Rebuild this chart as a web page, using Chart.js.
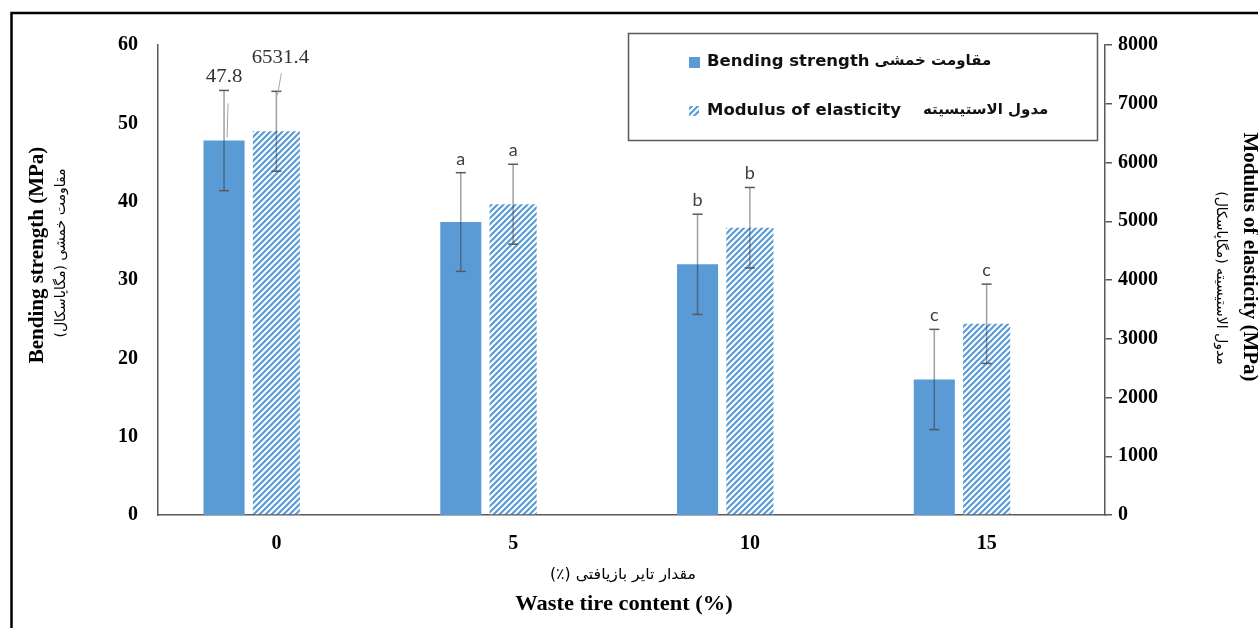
<!DOCTYPE html>
<html>
<head>
<meta charset="utf-8">
<script src="https://cdn.jsdelivr.net/npm/chart.js@4"></script>
<style>
  body { margin: 0; background: #fff; }
  #chart { display: block; }
</style>
</head>
<body>
<canvas id="chart" width="1258" height="628"></canvas>
<script>
// Data
const tireContent = ["0", "5", "10", "15"];
const bendingStrength = [47.8, 37.4, 32.0, 17.3];
const bendingError = [6.4, 6.3, 6.4, 6.4];
const modulusElasticity = [6531.4, 5290, 4890, 3255];
const modulusError = [680, 680, 685, 675];
const bendingLetters = ["", "a", "b", "c"];
const modulusLetters = ["", "a", "b", "c"];
const bendingAxis = { min: 0, max: 60, step: 10 };
const modulusAxis = { min: 0, max: 8000, step: 1000 };

const BLUE = "#5B9BD5";
const AXIS = "#595959";
const SERIF = "'Liberation Serif', 'Times New Roman', serif";
const SANS = "'DejaVu Sans', sans-serif";

const canvas = document.getElementById("chart");
const ctx = canvas.getContext("2d");

// hatch fill for the modulus bars
function makeHatch() {
  const size = 6;
  const c = document.createElement("canvas");
  c.width = size;
  c.height = size;
  const g = c.getContext("2d");
  g.fillStyle = "#fff";
  g.fillRect(0, 0, size, size);
  g.strokeStyle = BLUE;
  g.lineWidth = 2.2;
  g.beginPath();
  for (let k = -1; k <= 1; k++) {
    g.moveTo(k * size - 1, size + 1);
    g.lineTo(k * size + size + 1, -1);
  }
  g.stroke();
  return ctx.createPattern(c, "repeat");
}
const hatch = makeHatch();

function text(str, x, y, font, opts = {}) {
  ctx.save();
  ctx.translate(x, y);
  if (opts.rotate) ctx.rotate(opts.rotate);
  ctx.scale(opts.sx || 1, 1);
  ctx.font = font;
  ctx.fillStyle = opts.color || "#000";
  ctx.textAlign = opts.align || "center";
  ctx.textBaseline = opts.baseline || "middle";
  ctx.direction = opts.rtl ? "rtl" : "ltr";
  ctx.fillText(str, 0, 0);
  const w = ctx.measureText(str).width * (opts.sx || 1);
  ctx.restore();
  return w;
}

function line(x1, y1, x2, y2, color, width) {
  ctx.save();
  ctx.strokeStyle = color;
  ctx.lineWidth = width;
  ctx.beginPath();
  ctx.moveTo(x1, y1);
  ctx.lineTo(x2, y2);
  ctx.stroke();
  ctx.restore();
}

function drawErrors(chart, dsIndex, values, errors, scaleId, letters) {
  const scale = chart.scales[scaleId];
  const meta = chart.getDatasetMeta(dsIndex);
  const caps = [];
  meta.data.forEach((bar, i) => {
    const x = bar.x;
    const top = scale.getPixelForValue(values[i] + errors[i]);
    const bottom = scale.getPixelForValue(values[i] - errors[i]);
    line(x, top, x, bottom, "rgba(45,45,45,0.45)", 1.5);
    line(x - 5, top, x + 5, top, AXIS, 1.5);
    line(x - 5, bottom, x + 5, bottom, AXIS, 1.5);
    if (letters[i]) {
      text(letters[i], x, top - 8, "18px Lato, sans-serif", {
        color: "#404040",
        baseline: "alphabetic",
      });
    }
    caps.push({ x, top, barTop: bar.y });
  });
  return caps;
}

const overlay = {
  id: "overlay",
  beforeDraw() {
    // outer frame
    ctx.save();
    ctx.strokeStyle = "#000";
    ctx.lineWidth = 2.5;
    ctx.beginPath();
    ctx.moveTo(11.5, 640);
    ctx.lineTo(11.5, 13);
    ctx.lineTo(1270, 13);
    ctx.stroke();
    ctx.restore();
  },
  afterDatasetsDraw(chart) {
    const b = drawErrors(chart, 0, bendingStrength, bendingError, "y", bendingLetters);
    const m = drawErrors(chart, 1, modulusElasticity, modulusError, "y1", modulusLetters);

    // value labels on the first group
    const numFont = "19px " + SERIF;
    text(String(bendingStrength[0]), b[0].x, b[0].top - 13, numFont, { color: "#333", sx: 1.1 });
    line(b[0].x + 4, b[0].top + 13, b[0].x + 3, b[0].barTop - 3, "#a6a6a6", 1);
    text(String(modulusElasticity[0]), m[0].x + 4, m[0].top - 33, numFont, { color: "#333", sx: 1.1 });
    line(m[0].x + 5, m[0].top - 18, m[0].x + 1, m[0].top + 4, "#a6a6a6", 1);
  },
  afterDraw() {
    // axis titles
    const titleFont = "bold 21px " + SERIF;
    const faFont = "14px " + SANS;
    text("Bending strength (MPa)", 38, 255, titleFont, { rotate: -Math.PI / 2 });
    text("مقاومت خمشی (مگاپاسکال)", 61, 253, faFont, { rotate: -Math.PI / 2, rtl: true });
    text("Modulus of elasticity (MPa)", 1249, 257, titleFont, { rotate: Math.PI / 2 });
    text("مدول الاستیسیته (مگاپاسکال)", 1221, 278, faFont, { rotate: Math.PI / 2, rtl: true });
    text("مقدار تایر بازیافتی (٪)", 623, 575, "15px " + SANS, { rtl: true, sx: 1.05 });
    text("Waste tire content (%)", 624, 605, titleFont, { sx: 1.07 });

    // legend
    ctx.save();
    ctx.strokeStyle = AXIS;
    ctx.lineWidth = 1.5;
    ctx.strokeRect(628.5, 33.5, 469, 107);
    ctx.fillStyle = BLUE;
    ctx.fillRect(689, 57, 11, 11);
    ctx.fillStyle = hatch;
    ctx.fillRect(689, 106, 10, 10);
    ctx.restore();
    const legFont = "bold 15px " + SANS;
    const faLeg = "bold 15px " + SANS;
    const w1 = text("Bending strength", 707, 62, legFont, { align: "left", sx: 1.1, color: "#111" });
    text("مقاومت خمشی", 707 + w1 + 5, 61, faLeg, { align: "left", rtl: true, color: "#111" });
    const w2 = text("Modulus of elasticity", 707, 111, legFont, { align: "left", sx: 1.1, color: "#111" });
    text("مدول الاستیسیته", 707 + w2 + 22, 110, faLeg, { align: "left", rtl: true, color: "#111" });
  },
};

new Chart(ctx, {
  type: "bar",
  data: {
    labels: tireContent,
    datasets: [
      {
        label: "Bending strength",
        data: bendingStrength,
        backgroundColor: BLUE,
        yAxisID: "y",
        categoryPercentage: 0.663,
        barPercentage: 0.785,
      },
      {
        label: "Modulus of elasticity",
        data: modulusElasticity,
        backgroundColor: hatch,
        yAxisID: "y1",
        categoryPercentage: 0.663,
        barPercentage: 0.9,
      },
      {
        // empty slot that keeps the modulus bar centred on its label
        label: "",
        data: [],
        yAxisID: "y",
        categoryPercentage: 0.663,
      },
    ],
  },
  options: {
    responsive: false,
    animation: false,
    layout: { padding: { top: 45, left: 0, right: 0, bottom: 0 } },
    plugins: {
      legend: { display: false },
      tooltip: { enabled: false },
    },
    scales: {
      x: {
        grid: { display: false, drawTicks: false },
        border: { color: AXIS, width: 1.5 },
        ticks: {
          color: "#000",
          padding: 17,
          font: { family: SERIF, size: 20, weight: "bold" },
        },
        afterFit: (scale) => {
          scale.height = 113;
        },
      },
      y: {
        position: "left",
        min: bendingAxis.min,
        max: bendingAxis.max,
        grid: { display: false, drawTicks: false },
        border: { color: AXIS, width: 1.5 },
        ticks: {
          stepSize: bendingAxis.step,
          color: "#000",
          padding: 20,
          font: { family: SERIF, size: 20, weight: "bold" },
        },
        afterFit: (scale) => {
          scale.width = 158;
        },
      },
      y1: {
        position: "right",
        min: modulusAxis.min,
        max: modulusAxis.max,
        grid: {
          display: true,
          drawOnChartArea: false,
          drawTicks: true,
          tickLength: 7,
          color: AXIS,
          lineWidth: 1.5,
        },
        border: { color: AXIS, width: 1.5 },
        ticks: {
          stepSize: modulusAxis.step,
          color: "#000",
          padding: 6,
          font: { family: SERIF, size: 20, weight: "bold" },
          callback: (value) => String(value),
        },
        afterFit: (scale) => {
          scale.width = 153;
        },
      },
    },
  },
  plugins: [overlay],
});
</script>
</body>
</html>
